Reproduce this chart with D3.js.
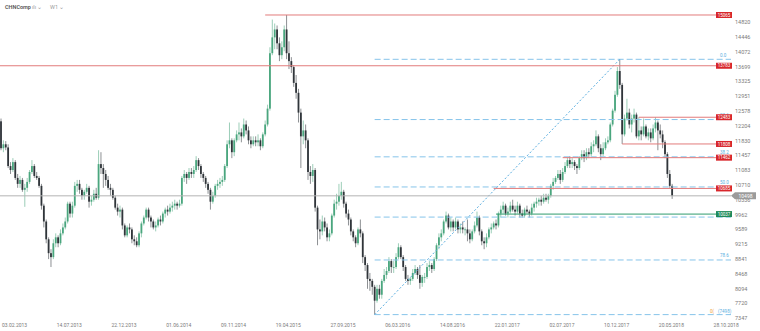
<!DOCTYPE html>
<html>
<head>
<meta charset="utf-8">
<script src="https://cdn.jsdelivr.net/npm/d3@7"></script>
<style>
  body { margin: 0; background: #fff; }
  svg { display: block; font-family: Roboto, "Liberation Sans", sans-serif; }
</style>
</head>
<body>
<div id="chart"></div>
<script>
// weekly candles, first week starts 03.02.2013, open = previous close
const firstWeek = "2013-02-03";
const firstOpen = 12380;

const closes = [
  11700, 11800, 11720, 11250, 11150, 11350, 10950, 10800, 10900, 10650,
  10700, 10850, 11100, 11250, 11000, 10950, 10750, 10250, 9850, 9400,
  9050, 8950, 9300, 9450, 9300, 9550, 9700, 9850, 10300, 10050,
  10250, 10750, 10800, 10650, 10500, 10600, 10700, 10350, 10400, 10550,
  10450, 11300, 11200, 11050, 10900, 10700, 10650, 10450, 10200, 10100,
  10150, 9750, 9500, 9700, 9650, 9400, 9350, 9250, 9550, 9800,
  9950, 10150, 9950, 9850, 9700, 9750, 9900, 9850, 10050, 10150,
  10100, 10200, 10250, 10300, 10250, 10300, 10950, 11050, 10950, 11100,
  11050, 11150, 11400, 11250, 11050, 10950, 10800, 10650, 10350, 10500,
  10750, 10800, 10850, 10900, 11250, 11800, 11900, 11600, 11900, 12050,
  12100, 12000, 12300, 12150, 11900, 11800, 11900, 11850, 11900, 11750,
  12050, 12300, 12700, 14100, 14500, 14700, 14350, 14050, 14250, 14700,
  14100, 13900, 13750, 13350, 13100, 12600, 12000, 12150, 11900, 11100,
  11000, 11150, 10200, 9650, 9600, 9850, 9700, 9450, 9550, 10000,
  10300, 10350, 10500, 10600, 10300, 10050, 9900, 9600, 9450, 9300,
  9650, 9550, 8950, 8750, 8400, 8350, 8200, 7850, 8150, 8000,
  8350, 8500, 8600, 8850, 8700, 8700, 8950, 9200, 8950, 8700,
  8400, 8350, 8400, 8550, 8650, 8500, 8300, 8450, 8450, 8700,
  8750, 8650, 8900, 9250, 9450, 9550, 9850, 10000, 9700, 9850,
  9700, 9850, 9650, 9700, 9650, 9650, 9550, 9400, 9600, 9750,
  9950, 9600, 9350, 9300, 9450, 9650, 9700, 9800, 9750, 10050,
  10150, 10250, 10050, 10100, 10250, 10150, 10100, 10250, 10050, 10000,
  10150, 10100, 10050, 10200, 10300, 10350, 10400, 10350, 10450, 10400,
  10500, 10750, 10850, 10950, 11050, 10900, 11100, 11250, 11400, 11300,
  11350, 11250, 11200, 11450, 11550, 11450, 11600, 11550, 11750, 11800,
  12000, 11700, 11550, 11700, 11850, 11900, 12300, 12650, 13050, 13650,
  13300, 12050, 12450, 12600, 12300, 12450, 12550, 12000, 12150, 12050,
  12250, 12000, 12100, 11950, 12200, 12350, 12150, 12050, 11850, 11550,
  11050, 10750, 10498
];

const highs = [
  12450, 11900, 11880, 11800, 11350, 11450, 11400, 11050, 11000, 10950,
  10800, 10950, 11150, 11400, 11300, 11100, 11000, 10800, 10300, 9900,
  9450, 9150, 9400, 9550, 9500, 9650, 9800, 9950, 10350, 10350,
  10350, 10850, 10900, 10900, 10700, 10650, 10800, 10750, 10500, 10650,
  10700, 11650, 11600, 11300, 11150, 11000, 10800, 10700, 10500, 10300,
  10250, 10200, 9800, 9750, 9800, 9700, 9500, 9450, 9600, 9850,
  10000, 10200, 10200, 10000, 9900, 9850, 9950, 10000, 10100, 10200,
  10250, 10300, 10350, 10400, 10350, 10400, 11000, 11150, 11100, 11200,
  11200, 11250, 11500, 11450, 11300, 11100, 11000, 10850, 10700, 10600,
  10800, 10900, 10950, 11000, 11300, 11900, 12350, 11950, 11950, 12150,
  12350, 12200, 12450, 12400, 12250, 12000, 12000, 12000, 12050, 11950,
  12100, 12400, 12800, 14250, 14950, 14850, 14800, 14500, 14400, 14800,
  15065, 14400, 14000, 13800, 13550, 13200, 12700, 12400, 12300, 11950,
  11250, 11300, 11200, 10250, 9900, 10000, 9950, 9800, 9650, 10050,
  10400, 10550, 10800, 10850, 10650, 10350, 10150, 9950, 9650, 9500,
  9700, 9900, 9600, 9000, 8800, 8550, 8400, 8250, 8250, 8250,
  8400, 8650, 8700, 8950, 8900, 8850, 9050, 9300, 9250, 9000,
  8750, 8500, 8450, 8650, 8750, 8700, 8750, 8500, 8550, 8800,
  8850, 8800, 8950, 9300, 9550, 9650, 9900, 10100, 10050, 9950,
  9900, 9950, 9900, 9800, 9850, 9700, 9900, 9650, 9650, 9850,
  10100, 10000, 9650, 9450, 9550, 9700, 9800, 9850, 9900, 10100,
  10250, 10350, 10300, 10200, 10350, 10400, 10250, 10350, 10300, 10150,
  10200, 10250, 10150, 10300, 10350, 10450, 10450, 10500, 10550, 10550,
  10550, 10800, 10950, 11000, 11150, 11150, 11200, 11350, 11462, 11500,
  11450, 11400, 11300, 11500, 11650, 11650, 11700, 11700, 11850, 11900,
  12150, 12050, 11800, 11850, 11950, 12000, 12350, 12700, 13150, 13750,
  13946, 13350, 12550, 12950, 12700, 12550, 12700, 12600, 12483, 12250,
  12450, 12300, 12200, 12200, 12300, 12483, 12400, 12300, 12150, 11900,
  11600, 11150, 10800
];

const lows = [
  11650, 11600, 11650, 11200, 11050, 11100, 10900, 10700, 10700, 10600,
  10220, 10600, 10800, 11050, 10950, 10900, 10700, 10150, 9700, 9300,
  8900, 8700, 8900, 9200, 9200, 9250, 9500, 9650, 9800, 9950,
  9950, 10200, 10600, 10550, 10400, 10400, 10550, 10200, 10250, 10350,
  10400, 10400, 11050, 10700, 10750, 10650, 10500, 10400, 10150, 10000,
  9950, 9650, 9450, 9450, 9550, 9300, 9250, 9200, 9200, 9450,
  9750, 9900, 9850, 9700, 9650, 9600, 9700, 9750, 9800, 9950,
  10000, 10050, 10100, 10150, 10150, 10200, 10250, 10850, 10800, 10900,
  10950, 10950, 11100, 11150, 10950, 10850, 10700, 10550, 10150, 10300,
  10450, 10650, 10700, 10750, 10850, 11200, 11700, 11450, 11500, 11850,
  11900, 11850, 11950, 12050, 11800, 11700, 11750, 11750, 11750, 11650,
  11700, 12000, 12250, 12650, 14050, 14200, 14200, 13900, 13950, 14150,
  13950, 13700, 13600, 13250, 12950, 12350, 11200, 11800, 11700, 10900,
  10800, 10850, 10100, 9250, 9400, 9500, 9600, 9350, 9350, 9500,
  9950, 10150, 10250, 10400, 10200, 9950, 9750, 9500, 9350, 9200,
  9250, 9450, 8800, 8600, 8150, 8100, 8000, 7498, 7800, 7900,
  7900, 8300, 8400, 8550, 8550, 8550, 8650, 8900, 8900, 8600,
  8350, 8250, 8250, 8350, 8500, 8400, 8150, 8200, 8300, 8400,
  8600, 8550, 8600, 8850, 9150, 9350, 9500, 9800, 9650, 9600,
  9600, 9650, 9550, 9550, 9550, 9500, 9350, 9300, 9350, 9550,
  9700, 9500, 9250, 9150, 9200, 9400, 9550, 9650, 9650, 9700,
  9950, 10050, 10000, 9950, 10050, 10100, 10000, 10050, 9950, 9950,
  9950, 10050, 9950, 10000, 10100, 10200, 10250, 10250, 10300, 10350,
  10300, 10450, 10650, 10800, 10900, 10800, 10850, 11050, 11200, 11200,
  11200, 11150, 11050, 11150, 11400, 11350, 11400, 11450, 11500, 11600,
  11750, 11600, 11400, 11500, 11650, 11800, 11850, 12250, 12600, 13000,
  13200, 11808, 12000, 12400, 12200, 12100, 12350, 11950, 11900, 11900,
  12000, 11950, 11900, 11850, 11900, 12100, 11650, 11950, 11700, 11450,
  10950, 10700, 10420
];

const priceTicks = [7347, 7720, 8094, 8468, 8841, 9215, 9589, 9962, 10336, 10710,
  11083, 11457, 11830, 12204, 12578, 12951, 13325, 13699, 14072, 14446, 14820];
const dateTicks = ["03.02.2013", "14.07.2013", "22.12.2013", "01.06.2014", "09.11.2014",
  "19.04.2015", "27.09.2015", "06.03.2016", "14.08.2016", "22.01.2017", "02.07.2017",
  "10.12.2017", "20.05.2018", "28.10.2018"];

// fibonacci retracement between the 2016 low and the 2018 high
const fibLow = { date: "2016-02-07", value: 7498 };
const fibHigh = { date: "2018-01-28", value: 13946 };
const fibLevels = [0, 23.6, 38.2, 50, 61.8, 78.6, 100];
const fibShown = ["0.0", "23.6", "38.2", "50.0", "", "78.6", ""]; // 61.8 sits under the green box

// horizontal levels drawn on the chart
const levelPrices = [15065, 13783, 12483, 11808, 11462, 10685, 10037];
const levelFrom = ["2015-03-22", "2013-02-03", "2018-03-25", "2018-02-04", "2017-08-13", "2017-01-22", "2017-01-29"];
const levelKind = ["res", "res", "res", "res", "res", "res", "sup"];
const lastPrice = 10498;

const width = 760, height = 331;
const plotRight = 716;
const parseIso = d3.utcParse("%Y-%m-%d");
const parseDe = d3.utcParse("%d.%m.%Y");

const x = d3.scaleUtc()
  .domain([parseIso("2013-02-03"), parseIso("2018-10-28")])
  .range([1, 712.6]);
const y = d3.scaleLinear()
  .domain([7347, 14820])
  .range([320.6, 24.7]);

const svg = d3.select("#chart").append("svg")
  .attr("width", width)
  .attr("height", height);

svg.append("rect").attr("width", width).attr("height", height).attr("fill", "#fff");

// candles
const start = parseIso(firstWeek);
const candles = closes.map((c, i) => {
  const o = i === 0 ? firstOpen : closes[i - 1];
  return {
    date: d3.utcWeek.offset(start, i),
    o, c,
    h: Math.max(highs[i], o, c),
    l: Math.min(lows[i], o, c)
  };
});

const upCol = "#4aa67e", downCol = "#30353a";
const cg = svg.append("g");
cg.selectAll("line")
  .data(candles)
  .enter().append("line")
  .attr("x1", d => x(d.date)).attr("x2", d => x(d.date))
  .attr("y1", d => y(d.h)).attr("y2", d => y(d.l))
  .attr("stroke", d => d.c >= d.o ? upCol : downCol)
  .attr("stroke-opacity", 0.55)
  .attr("stroke-width", 1);
cg.selectAll("rect")
  .data(candles)
  .enter().append("rect")
  .attr("x", d => x(d.date) - 0.9)
  .attr("width", 1.8)
  .attr("y", d => y(Math.max(d.o, d.c)))
  .attr("height", d => Math.max(0.8, Math.abs(y(d.o) - y(d.c))))
  .attr("fill", d => d.c >= d.o ? upCol : downCol);

// fibonacci lines
const fx0 = x(parseIso(fibLow.date));
const fibRange = fibHigh.value - fibLow.value;
const fg = svg.append("g");
fibLevels.forEach((r, i) => {
  const v = fibHigh.value - r / 100 * fibRange;
  fg.append("line")
    .attr("x1", fx0).attr("x2", 731)
    .attr("y1", y(v)).attr("y2", y(v))
    .attr("stroke", "#86c4ea")
    .attr("stroke-width", 1)
    .attr("stroke-dasharray", "6,3");
  if (fibShown[i]) {
    fg.append("text")
      .attr("x", 720).attr("y", y(v) - 2.5)
      .attr("fill", "#5aaee0")
      .style("font-size", "4.5px")
      .text(fibShown[i]);
  }
});
fg.append("text").attr("x", 710).attr("y", y(fibLow.value) - 1.5)
  .attr("fill", "#f0a040").style("font-size", "4.5px").text("0(");
fg.append("text").attr("x", 718).attr("y", y(fibLow.value) - 1.5)
  .attr("fill", "#5aaee0").style("font-size", "4.5px").text("(" + fibLow.value + ")");
fg.append("line")
  .attr("x1", fx0).attr("y1", y(fibLow.value))
  .attr("x2", x(parseIso(fibHigh.date))).attr("y2", y(fibHigh.value))
  .attr("stroke", "#5aaee0")
  .attr("stroke-width", 1)
  .attr("stroke-dasharray", "2,2");

// current price line
svg.append("line")
  .attr("x1", 0).attr("x2", 731)
  .attr("y1", y(lastPrice)).attr("y2", y(lastPrice))
  .attr("stroke", "#b3b3b3").attr("stroke-width", 1);

// support / resistance levels
const lg = svg.append("g");
levelPrices.forEach((p, i) => {
  const col = levelKind[i] === "sup" ? "#2f9c6d" : "#e27b7b";
  const box = levelKind[i] === "sup" ? "#1f8a5a" : "#d8262b";
  const x0 = i === 1 ? 0 : x(parseIso(levelFrom[i]));
  lg.append("line")
    .attr("x1", x0).attr("x2", plotRight)
    .attr("y1", y(p)).attr("y2", y(p))
    .attr("stroke", col).attr("stroke-width", 1);
  lg.append("rect")
    .attr("x", plotRight).attr("y", y(p) - 3)
    .attr("width", 16).attr("height", 6)
    .attr("fill", box);
  lg.append("text")
    .attr("x", plotRight + 8).attr("y", y(p) + 1.6)
    .attr("text-anchor", "middle")
    .attr("fill", "#fff")
    .style("font-size", "4.5px")
    .text(p);
});

// price axis
const ag = svg.append("g");
ag.selectAll("text")
  .data(priceTicks)
  .enter().append("text")
  .attr("x", 735)
  .attr("y", d => y(d) - 0.5)
  .attr("fill", "#7a7a7a")
  .style("font-size", "5.5px")
  .text(d => d);

// last price marker
const ly = y(lastPrice);
svg.append("path")
  .attr("d", `M731,${ly} L735,${ly - 3.5} H756 V${ly + 3.5} H735 Z`)
  .attr("fill", "#9b9b9b");
svg.append("text")
  .attr("x", 745.5).attr("y", ly + 1.7)
  .attr("text-anchor", "middle")
  .attr("fill", "#fff")
  .style("font-size", "5px")
  .text(lastPrice);

// date axis
svg.append("g").selectAll("text")
  .data(dateTicks)
  .enter().append("text")
  .attr("x", d => x(parseDe(d)) + 1)
  .attr("y", 327)
  .attr("fill", "#7a7a7a")
  .style("font-size", "5px")
  .text(d => d);

// header
const hg = svg.append("g").style("font-size", "5.5px");
hg.append("text").attr("x", 5).attr("y", 8.5).attr("fill", "#555").style("font-weight", 600).text("CHNComp");
hg.append("text").attr("x", 32).attr("y", 8.5).attr("fill", "#9a9a9a").text("ılı  ⌄");
hg.append("text").attr("x", 50).attr("y", 8.5).attr("fill", "#9a9a9a").text("W1  ⌄");
</script>
</body>
</html>
